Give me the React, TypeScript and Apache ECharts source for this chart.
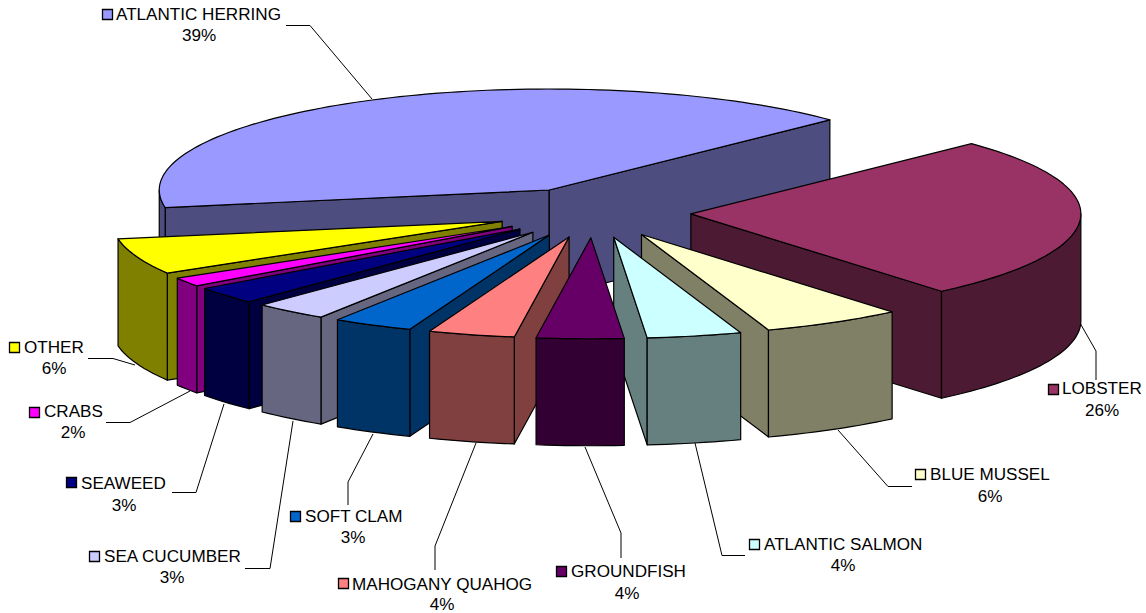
import React, { useEffect, useRef } from "react";
import * as echarts from "echarts";

const categories = ["ATLANTIC HERRING", "LOBSTER", "BLUE MUSSEL", "ATLANTIC SALMON", "GROUNDFISH", "MAHOGANY QUAHOG", "SOFT CLAM", "SEA CUCUMBER", "SEAWEED", "CRABS", "OTHER"];
const percentLabels = ["39%", "26%", "6%", "4%", "4%", "4%", "3%", "3%", "3%", "2%", "6%"];
// Apparent share of the drawn pie.
const shares = [40.56, 26.11, 5.83, 3.91, 3.61, 3.58, 3.32, 3.07, 2.78, 1.44, 5.79];

const topColors = ["#9999FF", "#993366", "#FFFFCC", "#CCFFFF", "#660066", "#FF8080", "#0066CC", "#CCCCFF", "#000080", "#FF00FF", "#FFFF00"];
const sideColors = ["#4D4D80", "#4D1A33", "#808066", "#668080", "#330033", "#804040", "#003366", "#666680", "#000040", "#800080", "#808000"];

// Pie projection
const CX = 593.5, CY = 212.5, RX = 390, RY = 101, EXPLODE = 97.5, DEPTH = 107, START_DEG = 260;
const FONT = "'Liberation Sans', Arial, sans-serif";
const FONT_SIZE = 17.1;

// Label layout: [key left, key top, text left, text mid y, percent centre x, percent mid y]
const labelLayout: number[][] = [
  [102, 9, 116, 14, 199, 35],
  [1048, 384, 1062, 388, 1102, 410],
  [915, 469, 930, 474, 990, 496],
  [749, 539, 764, 544, 843, 565],
  [556, 566, 571, 571, 627, 593],
  [338, 578, 352, 584, 442, 604],
  [290, 511, 305, 516, 353, 537],
  [89, 551, 104, 556, 172, 577],
  [66, 477, 81, 483, 124, 505],
  [29, 407, 44, 411, 73, 432],
  [9, 342, 24, 347, 54, 368],
];
const leaderLines: number[][][] = [
  [[286, 25.5], [310, 25.5], [372, 99]],
  [[1080, 323], [1096, 351], [1096, 380]],
  [[838, 430], [888, 486.5], [912, 486.5]],
  [[695, 443], [722, 555.5], [745, 555.5]],
  [[585, 447], [621, 533], [621, 558]],
  [[476, 443], [435, 546], [435, 570]],
  [[373, 434], [348, 482], [348, 505]],
  [[293, 421], [270, 568.5], [245, 568.5]],
  [[224, 404], [196, 492.5], [172, 492.5]],
  [[190, 391], [130, 422.5], [106, 422.5]],
  [[135, 365], [113, 358.5], [88, 358.5]],
];

const rad = (d: number) => (d * Math.PI) / 180;
const total = shares.reduce((a, b) => a + b, 0);
const sweeps = shares.map((s) => (s / total) * 360);
const starts: number[] = [];
sweeps.reduce((acc, s, i) => {
  starts[i] = acc;
  return acc + s;
}, START_DEG);

const midAngle = (i: number) => starts[i] + sweeps[i] / 2;
const frontDistance = (i: number) => {
  const m = ((midAngle(i) % 360) + 360) % 360;
  return Math.abs(m - 180);
};
// Paint from the back of the pie to the front.
const drawOrder = categories.map((_, i) => i).sort((a, b) => frontDistance(b) - frontDistance(a));

function arcPoints(ax: number, ay: number, from: number, to: number) {
  const n = Math.max(2, Math.ceil(Math.abs(to - from) / 1.5));
  const pts: number[][] = [];
  for (let k = 0; k <= n; k++) {
    const t = rad(from + ((to - from) * k) / n);
    pts.push([ax + RX * Math.sin(t), ay - RY * Math.cos(t)]);
  }
  return pts;
}

function renderSlice(_: any, api: any) {
  const i = api.value(0) as number;
  const a = ((starts[i] % 360) + 360) % 360;
  const b = a + sweeps[i];
  const m = rad(a + sweeps[i] / 2);
  const ax = CX + EXPLODE * Math.sin(m);
  const ay = CY - (EXPLODE * RY * Math.cos(m)) / RX;
  const edge = { stroke: "#000", lineWidth: 1.2, lineJoin: "round" };
  const poly = (points: number[][], fill: string) => ({
    type: "polygon",
    shape: { points },
    style: { fill, ...edge },
  });
  const children: any[] = [];
  const side = sideColors[i];
  const radial = (t: number) => {
    const [p] = arcPoints(ax, ay, t, t + 1);
    return poly([[ax, ay], p, [p[0], p[1] + DEPTH], [ax, ay + DEPTH]], side);
  };
  if (Math.sin(rad(a)) < 0) children.push(radial(a));
  if (Math.sin(rad(b)) > 0) children.push(radial(b));
  [[90, 270], [450, 630]].forEach(([lo, hi]) => {
    const from = Math.max(a, lo);
    const to = Math.min(b, hi);
    if (to > from) {
      const top = arcPoints(ax, ay, from, to);
      const bottom = top.map(([x, y]) => [x, y + DEPTH]).reverse();
      children.push(poly([...top, ...bottom], side));
    }
  });
  children.push(poly([[ax, ay], ...arcPoints(ax, ay, a, b)], topColors[i]));
  return { type: "group", children };
}

function labelGraphics() {
  const out: any[] = [];
  categories.forEach((name, i) => {
    const [kx, ky, tx, ty, px, py] = labelLayout[i];
    out.push({
      type: "polyline",
      silent: true,
      shape: { points: leaderLines[i] },
      style: { stroke: "#000", lineWidth: 1, fill: "none" },
    });
    out.push({
      type: "rect",
      silent: true,
      shape: { x: kx + 0.5, y: ky + 0.5, width: 10, height: 10 },
      style: { fill: topColors[i], stroke: "#000", lineWidth: 1.3 },
    });
    out.push({
      type: "text",
      silent: true,
      x: tx,
      y: ty,
      style: { text: name, fill: "#000", font: `${FONT_SIZE}px ${FONT}`, textAlign: "left", textVerticalAlign: "middle" },
    });
    out.push({
      type: "text",
      silent: true,
      x: px,
      y: py,
      style: { text: percentLabels[i], fill: "#000", font: `${FONT_SIZE}px ${FONT}`, textAlign: "center", textVerticalAlign: "middle" },
    });
  });
  return out;
}

export default function App() {
  const ref = useRef<HTMLDivElement>(null);
  useEffect(() => {
    const chart = echarts.init(ref.current!, undefined, { renderer: "svg" });
    chart.setOption({
      animation: false,
      backgroundColor: "#fff",
      series: [
        {
          type: "custom",
          coordinateSystem: "none",
          silent: true,
          renderItem: renderSlice,
          data: drawOrder.map((i) => ({ name: categories[i], value: [i, shares[i]] })),
          z: 1,
        },
      ],
      graphic: { elements: labelGraphics() },
    });
    return () => chart.dispose();
  }, []);
  return <div ref={ref} style={{ position: "fixed", left: 0, top: 0, width: 1146, height: 613 }} />;
}
